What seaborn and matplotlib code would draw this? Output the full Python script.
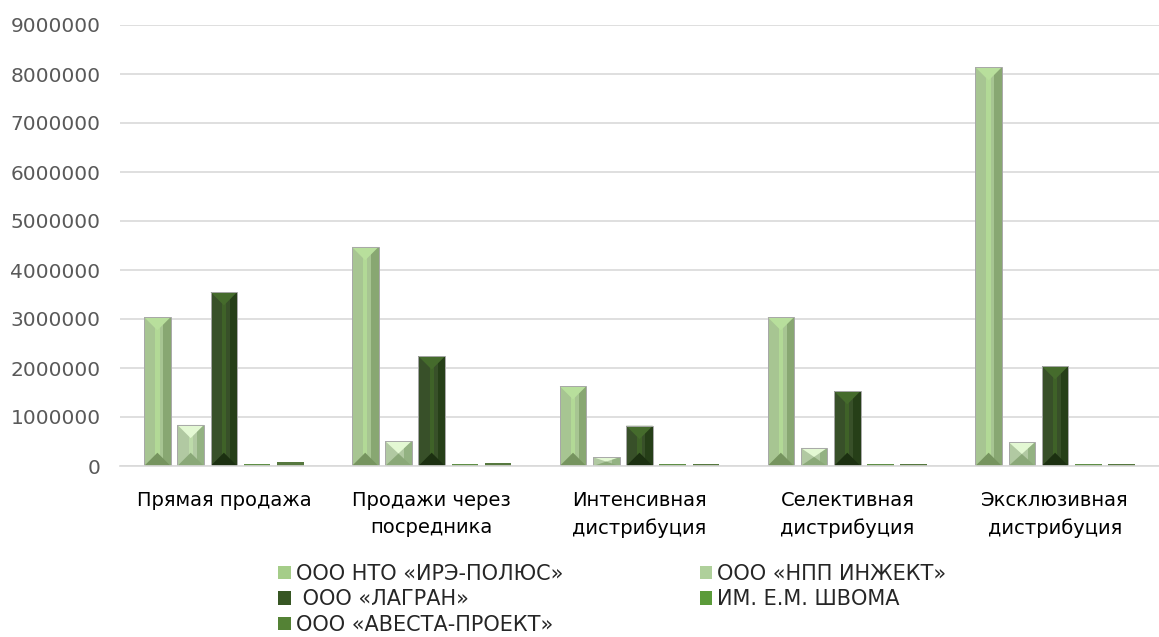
import numpy as np
import pandas as pd
import matplotlib
matplotlib.use("Agg")
import matplotlib.pyplot as plt
from matplotlib.patches import Polygon, Patch
from matplotlib.ticker import FuncFormatter, MultipleLocator
import seaborn as sns

# Sales channels (x categories)
channels = [
    "Прямая продажа",
    "Продажи через\nпосредника",
    "Интенсивная\nдистрибуция",
    "Селективная\nдистрибуция",
    "Эксклюзивная\nдистрибуция",
]

# Companies (series)
companies = [
    "ООО НТО «ИРЭ-ПОЛЮС»",
    "ООО «НПП ИНЖЕКТ»",
    " ООО «ЛАГРАН»",
    "ИМ. Е.М. ШВОМА",
    "ООО «АВЕСТА-ПРОЕКТ»",
]

# Values per company, one per channel
ire_polyus = [3040000, 4470000, 1630000, 3040000, 8140000]
npp_inzhekt = [840000, 510000, 180000, 370000, 490000]
lagran = [3550000, 2240000, 820000, 1530000, 2040000]
shvoma = [50000, 40000, 40000, 40000, 40000]
avesta = [80000, 55000, 40000, 40000, 40000]

series_values = [ire_polyus, npp_inzhekt, lagran, shvoma, avesta]

# Colours for each series: body, top facet, right facet, bottom facet, highlight
shades = [
    ("#a5cd89", "#b8df9c", "#88a772", "#76945f", "#b2d996"),
    ("#afd09b", "#e3f8d3", "#93b282", "#8aa878", "#bddbaa"),
    ("#375623", "#456b2c", "#263f18", "#1c3011", "#3f6228"),
    ("#5b9b3a", "#6aab48", "#4f8832", "#457a2b", "#64a542"),
    ("#548235", "#629343", "#48732d", "#3f6627", "#5b8b3b"),
]
palette = [s[0] for s in shades]

df = pd.DataFrame({
    "channel": np.tile(channels, len(companies)),
    "company": np.repeat(companies, len(channels)),
    "value": np.concatenate(series_values),
})

sns.set_theme(style="white")
plt.rcParams["font.family"] = ["DejaVu Sans"]

fig = plt.figure(figsize=(11.59, 6.37), dpi=100)
ax = fig.add_axes([120 / 1159, 1 - 466 / 637, 1 - 120 / 1159, (466 - 25) / 637])

sns.barplot(
    data=df, x="channel", y="value", hue="company",
    order=channels, hue_order=companies, palette=palette,
    width=0.8, gap=0.2, errorbar=None, legend=False, ax=ax,
    linewidth=0,
)

ax.set_xlim(-0.5, len(channels) - 0.5)
ax.set_ylim(0, 9000000)
ax.yaxis.set_major_locator(MultipleLocator(1000000))
ax.yaxis.set_major_formatter(FuncFormatter(lambda v, p: f"{int(round(v))}"))
ax.grid(axis="y", color="#d9d9d9", linewidth=1.2)
ax.set_axisbelow(True)
for side in ["left", "right", "top"]:
    ax.spines[side].set_visible(False)
ax.spines["bottom"].set_color("#d9d9d9")
ax.spines["bottom"].set_linewidth(1.2)
ax.set_xlabel("")
ax.set_ylabel("")
ax.tick_params(axis="y", length=0, pad=14, labelsize=14.5, labelcolor="#595959")
ax.tick_params(axis="x", length=0, pad=18, labelsize=14, labelcolor="#000000")
for lbl in ax.get_xticklabels():
    lbl.set_linespacing(1.55)
    lbl.set_verticalalignment("top")

# Bevelled facets on each bar, sized in pixels from the bar width
fig.canvas.draw()
to_disp = ax.transData
to_data = ax.transData.inverted()


def add_face(points, color, z, alpha=1.0):
    ax.add_patch(Polygon(to_data.transform(points), closed=True, facecolor=color,
                         edgecolor="none", alpha=alpha, zorder=z))


for cont, sh in zip(ax.containers, shades):
    body_c, top_c, right_c, bot_c, hi_c = sh
    for bar in cont:
        x0, y0 = bar.get_x(), bar.get_y()
        w, h = bar.get_width(), bar.get_height()
        if h <= 0:
            continue
        px0, py0 = to_disp.transform((x0, y0))
        px1, py1 = to_disp.transform((x0 + w, y0 + h))
        wpx, hpx = px1 - px0, py1 - py0
        z = bar.get_zorder()
        if hpx < 6:
            continue
        d = min(wpx / 2.0, hpx / 2.0)
        pcx = (px0 + px1) / 2
        s = wpx * 0.28
        # darker right facet
        add_face([(px1 - s, py1), (px1, py1), (px1, py0), (px1 - s, py0)], right_c, z + 0.1)
        # soft highlight down the middle
        if hpx > 2.2 * d:
            add_face([(px0 + wpx * 0.42, py1), (px0 + wpx * 0.58, py1),
                      (px0 + wpx * 0.58, py0), (px0 + wpx * 0.42, py0)], hi_c, z + 0.15)
        # top and bottom facets meeting at the centre line
        add_face([(px0, py1), (px1, py1), (pcx, py1 - d)], top_c, z + 0.2)
        add_face([(px0, py0), (px1, py0), (pcx, py0 + d)], bot_c, z + 0.2)
        # thin grey outline
        ax.add_patch(Polygon(to_data.transform([(px0, py0), (px1, py0), (px1, py1), (px0, py1)]),
                             closed=True, facecolor="none", edgecolor="#a8a8a8",
                             linewidth=0.7, zorder=z + 0.3))

# Legend filled row by row in two columns
handles = [Patch(facecolor=s[0], edgecolor="none") for s in shades]
order = [0, 2, 4, 1, 3]
fig.legend(
    [handles[i] for i in order], [companies[i] for i in order],
    ncol=2, loc="upper left", bbox_to_anchor=(278 / 1159, 1 - 564 / 637),
    frameon=False, fontsize=15, handlelength=0.6, handleheight=0.6,
    handletextpad=0.25, columnspacing=6.55, labelspacing=0.26,
    borderaxespad=0, borderpad=0,
)

fig.savefig("out.png", dpi=100)
